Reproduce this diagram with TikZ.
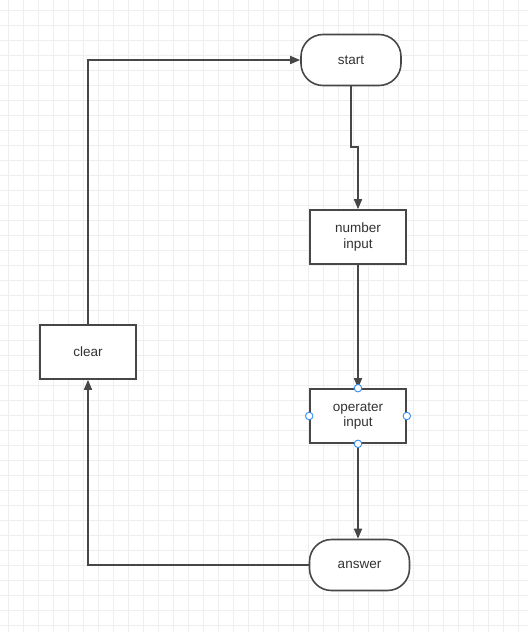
\documentclass[tikz,border=0pt]{standalone}
\usepackage{fontspec}
\setmainfont{Liberation Sans}
\usetikzlibrary{arrows.meta,positioning}

\definecolor{edgegray}{HTML}{474747}
\definecolor{gridgray}{HTML}{EEEEEE}
\definecolor{handleblue}{HTML}{2F8BF0}

\begin{document}
\begin{tikzpicture}[x=1pt,y=-1pt,
	box/.style={draw=edgegray,line width=1.6pt,fill=white,minimum width=96pt,minimum height=54pt,
		align=center,text=black!80,font=\fontsize{13.5}{15.5}\selectfont,inner sep=0pt},
	term/.style={box,minimum width=100pt,minimum height=51pt,rounded corners=22pt},
	flow/.style={draw=edgegray,line width=1.6pt,-{Triangle[length=10pt,width=8pt]}},
	handle/.style={circle,draw=handleblue,fill=white,line width=0.9pt,inner sep=0pt,minimum size=7.5pt}]
	\useasboundingbox (0,0) rectangle (528,632);
	% background grid
	\foreach \gx in {8,23,...,528}
		\draw[gridgray,line width=0.8pt] (\gx,0) -- (\gx,632);
	\foreach \gy in {10,25,...,632}
		\draw[gridgray,line width=0.8pt] (0,\gy) -- (528,\gy);
	% nodes
	\node[term] (start) at (351,60) {start};
	\node[box] (number) at (358,237) {number\\input};
	\node[box] (oper) at (358,416) {operater\\input};
	\node[term] (answer) at (359.5,565) {answer};
	\node[box] (clear) at (88,352) {clear};
	\coordinate (jog) at (351,147);
	% edges
	\draw[flow] (start.south) -- (jog) -| (number.north);
	\draw[flow] (number.south) -- (oper.north);
	\draw[flow] (oper.south) -- (oper.south |- answer.north);
	\draw[flow] (answer.west) -| (clear.south);
	\draw[flow] (clear.north) |- (start.west);
	% selection handles
	\foreach \side in {north,south,east,west}
		\node[handle] at (oper.\side) {};
\end{tikzpicture}
\end{document}
